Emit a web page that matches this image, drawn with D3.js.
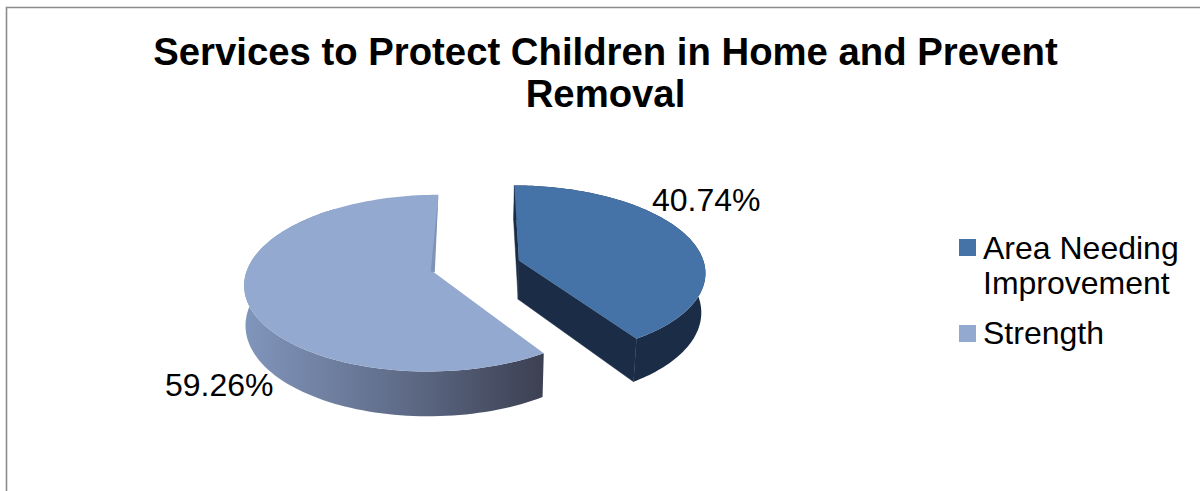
<!DOCTYPE html>
<html>
<head>
<meta charset="utf-8">
<script src="https://cdnjs.cloudflare.com/ajax/libs/d3/7.8.5/d3.min.js"></script>
<style>
  html, body { margin: 0; padding: 0; background: #fff; overflow: hidden; }
  text { font-family: "Liberation Sans", Arial, sans-serif; fill: #000; }
</style>
</head>
<body>
<script>
const categories = ['Area Needing Improvement', 'Strength'];
const values = [40.74, 59.26];
const titleLines = ['Services to Protect Children in Home and Prevent', 'Removal'];
const legendLines = [['Area Needing', 'Improvement'], ['Strength']];

const WIDTH = 1200;
const HEIGHT = 491;

// plate of the pie: unit circle in the plane, seen in perspective
const CX = 476;
const CY = 266.5;
const RX = 186;
const RY = 85.6;
const TILT = 0.1214;
const EXPLODE = [0.243, 0.235];
const DEPTH = 39;
const CONVERGE_R = 0.018;
const CONVERGE_L = 0.006;

const topColor = ['#4572a7', '#93a9cf'];
const wallColor = ['#1b2d46', 'url(#lightWall)'];
const labelPos = [[652, 211], [165, 396]];
const legendY = [[259, 294], [344]];
const swatchY = [239, 325];

let xScale = d3.scaleLinear().domain([-1, 1]).range([CX - RX, CX + RX]);
let yScale = d3.scaleLinear().domain([-1, 1]).range([CY - RY, CY + RY]);

// world (u, v) -> screen top face, v grows towards the viewer
function project(u, v) {
  let w = 1 - TILT * v;
  return [xScale(u / w), yScale(v / w), w];
}

// same point on the bottom face
function projectLow(u, v) {
  let p = project(u, v);
  let k = p[0] > CX ? CONVERGE_R : CONVERGE_L;
  return [p[0] - (p[0] - CX) * k, p[1] + DEPTH / p[2]];
}

let svg = d3.select('body').append('svg')
  .attr('width', WIDTH)
  .attr('height', HEIGHT)
  .style('display', 'block');

let grad = svg.append('defs').append('linearGradient')
  .attr('id', 'lightWall')
  .attr('x1', 0).attr('x2', 1).attr('y1', 0).attr('y2', 0);
grad.append('stop').attr('offset', '0').attr('stop-color', '#8196bc');
grad.append('stop').attr('offset', '0.5').attr('stop-color', '#616e8b');
grad.append('stop').attr('offset', '1').attr('stop-color', '#3c4052');

// chart frame, runs off the right and bottom of the picture
svg.append('path')
  .attr('d', d3.line()([[6.5, HEIGHT], [6.5, 7.5], [WIDTH, 7.5]]))
  .attr('fill', 'none')
  .attr('stroke', '#8c8c8c')
  .attr('stroke-width', 1.6);

let slices = d3.pie().sort(null)(values);
let line = d3.line();

let order = [1, 0];
order.forEach(i => {
  let s = slices[i];
  let mid = (s.startAngle + s.endAngle) / 2;
  let du = EXPLODE[i] * Math.sin(mid);
  let dv = -EXPLODE[i] * Math.cos(mid);
  let steps = d3.range(0, 121).map(k => s.startAngle + (s.endAngle - s.startAngle) * k / 120);
  let rim = steps.map(a => [du + Math.sin(a), dv - Math.cos(a)]);
  let first = rim[0];
  let last = rim[rim.length - 1];
  let tip = [du, dv];

  let g = svg.append('g').attr('class', 'slice');

  // side walls first, then the top covers what should be hidden
  let wallFill = i === 0 ? '#1b2d46' : '#7f92b8';
  if (i === 0) {
    [first, last].forEach(end => {
      g.append('path')
        .attr('d', line([project(...tip), project(...end), projectLow(...end), projectLow(...tip)].map(p => p.slice(0, 2))) + 'Z')
        .attr('fill', wallFill)
        .attr('stroke', wallFill)
        .attr('stroke-width', 0.5);
    });
  }

  // the light slice's wall stops before the back, it would poke out past the notch
  let wallRim = i === 0 ? rim : rim.filter((p, k) => steps[k] < 1.8 * Math.PI);
  let outer = wallRim.map(p => project(...p).slice(0, 2))
    .concat(wallRim.slice().reverse().map(p => projectLow(...p)));
  g.append('path')
    .attr('d', line(outer) + 'Z')
    .attr('fill', wallColor[i]);

  let face = [project(...tip).slice(0, 2)].concat(rim.map(p => project(...p).slice(0, 2)));
  g.append('path')
    .attr('d', line(face) + 'Z')
    .attr('fill', topColor[i]);

  // thin sliver of the back wall on the light slice
  if (i === 1) {
    let t = project(...tip);
    let e = project(...last);
    g.append('path')
      .attr('d', line([[e[0], e[1]], [t[0] + 1, t[1]], [t[0] - 3, t[1] - 1]]) + 'Z')
      .attr('fill', wallFill);
  }
});

svg.selectAll('.title')
  .data(titleLines)
  .enter()
  .append('text')
  .attr('class', 'title')
  .text(d => d)
  .attr('x', 605.5)
  .attr('y', (d, i) => 65 + i * 42)
  .attr('text-anchor', 'middle')
  .attr('font-size', '38.3px')
  .attr('font-weight', 'bold');

svg.selectAll('.pct')
  .data(values)
  .enter()
  .append('text')
  .attr('class', 'pct')
  .text(d => d3.format('.2f')(d) + '%')
  .attr('x', (d, i) => labelPos[i][0])
  .attr('y', (d, i) => labelPos[i][1])
  .attr('font-size', '32px');

let legend = svg.selectAll('.legend')
  .data(categories)
  .enter()
  .append('g')
  .attr('class', 'legend');

legend.append('rect')
  .attr('x', 959)
  .attr('y', (d, i) => swatchY[i])
  .attr('width', 17)
  .attr('height', 17)
  .attr('fill', (d, i) => topColor[i]);

legend.each(function(d, i) {
  d3.select(this).selectAll('text')
    .data(legendLines[i])
    .enter()
    .append('text')
    .text(t => t)
    .attr('x', 983)
    .attr('y', (t, k) => legendY[i][k])
    .attr('font-size', '32px');
});
</script>
</body>
</html>
